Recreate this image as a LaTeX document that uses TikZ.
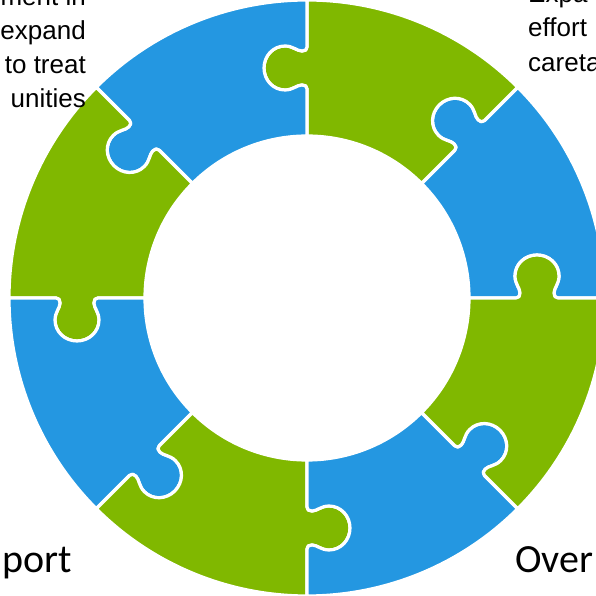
\documentclass[tikz,border=0pt]{standalone}
\usepackage{fontspec}
\setmainfont{Liberation Sans}
\newfontfamily\calib{Carlito}
\definecolor{pgreen}{RGB}{128,184,0}
\definecolor{pblue}{RGB}{36,151,225}
\newcommand\piecepath{%
 (162,0) -- (209,0)
 .. controls (212,0) and (213,2) .. (213,5)
 .. controls (213,10) and (208,14) .. (208,22)
 .. controls (208,34) and (218,43) .. (230,43)
 .. controls (242,43) and (252,34) .. (252,22)
 .. controls (252,14) and (247,10) .. (247,5)
 .. controls (247,2) and (248,0) .. (251,0)
 -- (298,0) arc[start angle=0, end angle=45, radius=298]
 -- ([rotate=45]251,0)
 .. controls ([rotate=45]248,0) and ([rotate=45]247,2) .. ([rotate=45]247,5)
 .. controls ([rotate=45]247,10) and ([rotate=45]252,14) .. ([rotate=45]252,22)
 .. controls ([rotate=45]252,34) and ([rotate=45]242,43) .. ([rotate=45]230,43)
 .. controls ([rotate=45]218,43) and ([rotate=45]208,34) .. ([rotate=45]208,22)
 .. controls ([rotate=45]208,14) and ([rotate=45]213,10) .. ([rotate=45]213,5)
 .. controls ([rotate=45]213,2) and ([rotate=45]212,0) .. ([rotate=45]209,0)
 -- ([rotate=45]162,0) arc[start angle=45, end angle=0, radius=162] -- cycle}
\tikzset{
 piece/.style={draw=white, line width=3.2pt, line join=round},
 sidetext/.style={inner sep=0pt, font=\fontsize{26}{30}\selectfont},
 bigtext/.style={inner sep=0pt, font=\calib\fontsize{40}{46}\selectfont}
}
\begin{document}
\begin{tikzpicture}[x=1pt,y=1pt]
\useasboundingbox (0,0) rectangle (595,596);
\foreach \a/\c in {0/pblue,45/pgreen,90/pblue,135/pgreen,180/pblue,225/pgreen,270/pblue,315/pgreen}{
  \begin{scope}[shift={(307,298)}, rotate=\a]
    \fill[\c] \piecepath;
    \draw[piece] \piecepath;
  \end{scope}
}
\node[sidetext, anchor=base east] (tl1) at (86,590) {ment in};
\node[sidetext, anchor=base east] (tl2) at (86,556) {expand};
\node[sidetext, anchor=base east] (tl3) at (86,522) {to treat};
\node[sidetext, anchor=base east] (tl4) at (86,488) {unities};
\node[sidetext, anchor=base west] (tr1) at (528,593) {Expa};
\node[sidetext, anchor=base west] (tr2) at (528,559) {effort};
\node[sidetext, anchor=base west] (tr3) at (528,524) {careta};
\node[bigtext, anchor=base west] (bl) at (2,23) {port};
\node[bigtext, anchor=base west] (br) at (515,23) {Over};
\end{tikzpicture}
\end{document}
